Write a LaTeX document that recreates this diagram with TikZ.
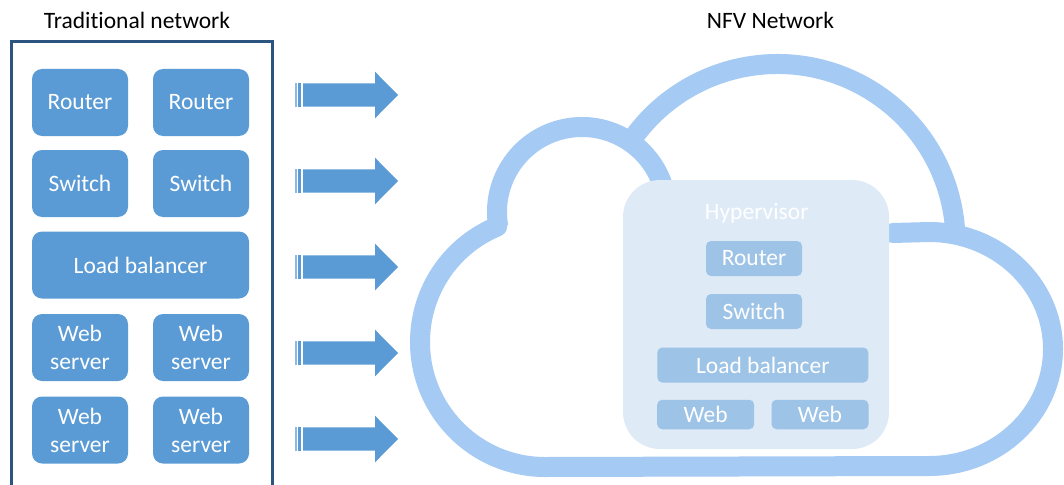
\documentclass[tikz,border=0pt]{standalone}
\usepackage{fontspec}
\setmainfont{Carlito}[Ligatures=NoCommon]
\definecolor{boxblue}{RGB}{91,155,213}
\definecolor{framedark}{RGB}{44,84,128}
\definecolor{cloudblue}{RGB}{165,202,243}
\definecolor{hvfill}{RGB}{222,234,246}
\definecolor{vmblue}{RGB}{157,195,230}
\newcommand{\labelfont}{\fontsize{23.5}{28}\selectfont}
\tikzset{
  lbox/.style={fill=boxblue, text=white, rounded corners=10pt, inner sep=0pt,
    minimum width=96pt, minimum height=67pt, align=center, font=\labelfont},
  vmbox/.style={fill=vmblue, text=white, rounded corners=5pt, inner sep=0pt,
    minimum height=35pt, font=\labelfont},
  title/.style={text=black, inner sep=0pt, anchor=base, font=\labelfont},
  cloudline/.style={draw=cloudblue, line width=20pt},
  framebox/.style={draw=framedark, line width=3pt},
}
\begin{document}
\begin{tikzpicture}[x=1pt,y=-1pt]
\useasboundingbox[fill=white] (0,0) rectangle (1064,484);

% titles
\node[title] (tradtitle) at (137,28.3) {Traditional network};
\node[title] (nfvtitle) at (770.5,28.3) {NFV Network};

% traditional network: frame and appliances
\draw[framebox] (11.7,42) rectangle (272.7,500);
\node[lbox] (r1) at (80,102.5) {Router};
\node[lbox] (r2) at (201,102.5) {Router};
\node[lbox] (s1) at (80,183.5) {Switch};
\node[lbox] (s2) at (201,183.5) {Switch};
\node[lbox, minimum width=217pt] (lb) at (140.5,265) {Load balancer};
\node[lbox] (w1) at (80,347.5) {Web\\server};
\node[lbox] (w2) at (201,347.5) {Web\\server};
\node[lbox] (w3) at (80,430) {Web\\server};
\node[lbox] (w4) at (201,430) {Web\\server};

% striped block arrows
\foreach \yc in {95,181,267,353,439} {
  \fill[boxblue] (303,{\yc-11.7}) -- (375,{\yc-11.7}) -- (375,{\yc-23.3})
    -- (398,\yc) -- (375,{\yc+23.3}) -- (375,{\yc+11.7}) -- (303,{\yc+11.7}) -- cycle;
  \fill[boxblue!70] (295.3,{\yc-11.7}) rectangle (296.6,{\yc+11.7});
  \fill[boxblue] (298.3,{\yc-11.7}) rectangle (300.7,{\yc+11.7});
}

% cloud outline
\draw[cloudline, line cap=round] (893,233) -- (929,232)
  arc[start angle=270, end angle=450, x radius=124, y radius=117]
  -- (545,467) arc[start angle=90, end angle=247.5, radius=125];
\draw[cloudline] (582,212) ++(170:85) arc[start angle=170, end angle=345, radius=85];
\draw[cloudline] (777.5,242) ++(214:178) arc[start angle=214, end angle=358, radius=178];

% hypervisor with virtual functions
\node[fill=hvfill, rounded corners=37pt, minimum width=266pt, minimum height=269pt,
  inner sep=0pt] (hv) at (756,314.5) {};
\node[text=white, inner sep=0pt, font=\labelfont] (hvlabel) at (756.7,213) {Hypervisor};
\node[vmbox, minimum width=96pt] (vr) at (754,258.5) {Router};
\node[vmbox, minimum width=96pt] (vs) at (754,311.5) {Switch};
\node[vmbox, minimum width=211pt] (vlb) at (762.8,365) {Load balancer};
\node[vmbox, minimum width=97pt, minimum height=29.5pt] (vw1) at (705.7,414.5) {Web};
\node[vmbox, minimum width=97pt, minimum height=29.5pt] (vw2) at (820,414.5) {Web};
\end{tikzpicture}
\end{document}
